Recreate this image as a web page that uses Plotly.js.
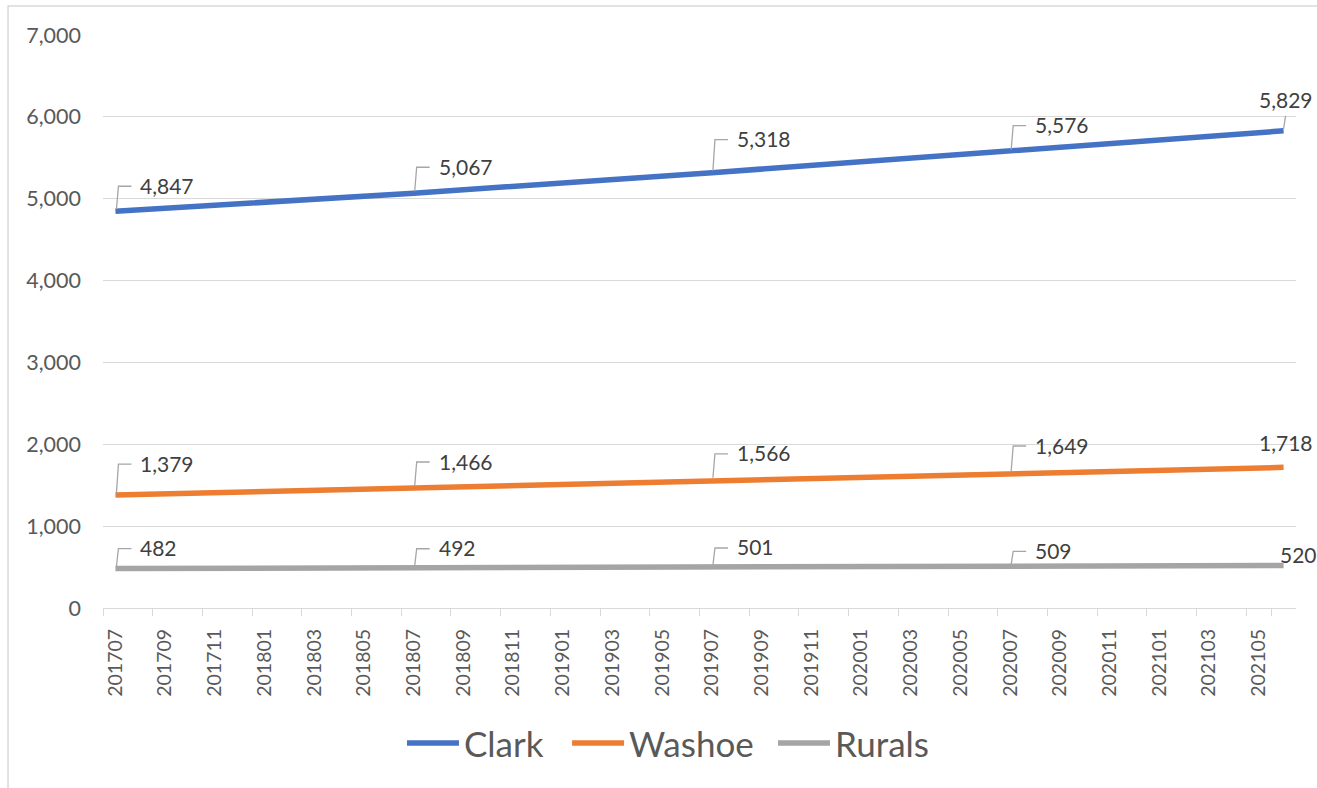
<!DOCTYPE html>
<html>
<head>
<meta charset="utf-8">
<script src="https://cdn.plot.ly/plotly-3.0.1.min.js"></script>
<style>
  html, body { margin: 0; padding: 0; background: #ffffff; }
  #chart { width: 1317px; height: 788px; }
</style>
</head>
<body>
<div id="chart"></div>
<script>
// ---- Data ----
const months = [
  "201707","201708","201709","201710","201711","201712",
  "201801","201802","201803","201804","201805","201806","201807","201808","201809","201810","201811","201812",
  "201901","201902","201903","201904","201905","201906","201907","201908","201909","201910","201911","201912",
  "202001","202002","202003","202004","202005","202006","202007","202008","202009","202010","202011","202012",
  "202101","202102","202103","202104","202105","202106"
];
const tickLabels = months.filter((m, i) => i % 2 === 0);
const pointMonths = ["201707", "201807", "201907", "202007", "202106"];
const clark  = [4847, 5067, 5318, 5576, 5829];
const washoe = [1379, 1466, 1566, 1649, 1718];
const rurals = [482, 492, 501, 509, 520];

const seriesNames = ["Clark", "Washoe", "Rurals"];
const seriesValues = [clark, washoe, rurals];

// ---- Styles / label placement (pixels) ----
const seriesColors = ["#4472C4", "#ED7D31", "#A5A5A5"];
const labelLift = [
  [26, 27, 34, 27, 31],
  [32, 27, 27, 28, 25],
  [21, 20, 20, 16, 11]
];
const lastShiftX = [2, 2, 15];
const legendX = [0.2506, 0.389, 0.5616];

const FONT = "Lato, 'Open Sans', sans-serif";

const traces = seriesNames.map((name, s) => ({
  type: "scatter",
  mode: "lines",
  name: name,
  x: pointMonths,
  y: seriesValues[s],
  line: { color: seriesColors[s], width: 5.5 },
  legend: s === 0 ? "legend" : "legend" + (s + 1),
  hoverinfo: "x+y+name"
}));

const annotations = [];
const shapes = [];
seriesValues.forEach((vals, s) => {
  vals.forEach((v, i) => {
    const last = i === vals.length - 1;
    const idx = months.indexOf(pointMonths[i]);   // category index
    const txt = v.toLocaleString("en-US");
    const h = labelLift[s][i];
    if (!last) {
      annotations.push({
        x: idx, y: v, xref: "x", yref: "y",
        text: txt, showarrow: false,
        xanchor: "left", yanchor: "middle",
        xshift: 23, yshift: h,
        font: { family: FONT, size: 21, color: "#404040" }
      });
      shapes.push({
        type: "path", xref: "x", yref: "y",
        xsizemode: "pixel", ysizemode: "pixel",
        xanchor: idx, yanchor: v,
        path: "M1,2 L3," + (h - 1) + " L16," + (h - 1),
        line: { color: "#A6A6A6", width: 1.3 },
        layer: "above"
      });
    } else {
      annotations.push({
        x: (idx + 0.5) / months.length, y: v, xref: "paper", yref: "y",
        text: txt, showarrow: false,
        xanchor: "center", yanchor: "middle",
        xshift: lastShiftX[s], yshift: h,
        font: { family: FONT, size: 21, color: "#404040" }
      });
      if (s === 0) {
        shapes.push({
          type: "path", xref: "x", yref: "y",
          xsizemode: "pixel", ysizemode: "pixel",
          xanchor: idx, yanchor: v,
          path: "M0,2 L2,15",
          line: { color: "#A6A6A6", width: 1.3 },
          layer: "above"
        });
      }
    }
  });
});

// outer chart border
shapes.push({
  type: "rect", xref: "paper", yref: "paper",
  x0: -0.0796, x1: 1.05, y0: -0.5, y1: 1.0506,
  line: { color: "#D9D9D9", width: 1.5 },
  fillcolor: "rgba(0,0,0,0)", layer: "below"
});

function legendCfg(x) {
  return {
    orientation: "h",
    x: x, xanchor: "left",
    y: -0.236, yanchor: "middle",
    font: { family: FONT, size: 35, color: "#595959" },
    itemwidth: 52,
    bgcolor: "rgba(0,0,0,0)"
  };
}

const layout = {
  width: 1317, height: 788,
  margin: { l: 103, r: 21, t: 35, b: 180 },
  paper_bgcolor: "#ffffff",
  plot_bgcolor: "#ffffff",
  font: { family: FONT, color: "#595959" },
  showlegend: true,
  legend: legendCfg(legendX[0]),
  legend2: legendCfg(legendX[1]),
  legend3: legendCfg(legendX[2]),
  xaxis: {
    type: "category",
    categoryorder: "array",
    categoryarray: months,
    range: [-0.5, months.length - 0.5],
    tickmode: "array",
    tickvals: tickLabels,
    ticktext: tickLabels,
    tickson: "boundaries",
    ticks: "outside",
    ticklen: 7,
    tickcolor: "#D9D9D9",
    tickwidth: 1.3,
    tickangle: -90,
    ticklabelstandoff: 12,
    tickfont: { family: FONT, size: 19.5, color: "#595959" },
    showgrid: false,
    showline: true,
    linecolor: "#D9D9D9",
    linewidth: 1.3,
    zeroline: false,
    fixedrange: true
  },
  yaxis: {
    range: [0, 7000],
    tickvals: [0, 1000, 2000, 3000, 4000, 5000, 6000, 7000],
    ticktext: ["0", "1,000", "2,000", "3,000", "4,000", "5,000", "6,000", "7,000"],
    tickfont: { family: FONT, size: 21.5, color: "#595959" },
    ticks: "",
    ticklabelstandoff: 21,
    showgrid: true,
    gridcolor: "#D9D9D9",
    gridwidth: 1.3,
    zeroline: false,
    showline: false,
    fixedrange: true
  },
  annotations: annotations,
  shapes: shapes
};

Plotly.newPlot("chart", traces, layout, { displayModeBar: false, staticPlot: false });
</script>
</body>
</html>
